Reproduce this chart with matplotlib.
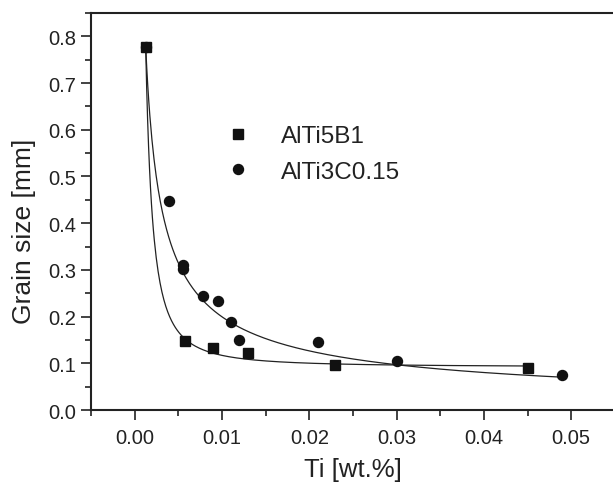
import numpy as np
import matplotlib
matplotlib.use('Agg')
import matplotlib.pyplot as plt
from matplotlib.ticker import MultipleLocator

plt.rcParams['font.family'] = ['Liberation Sans', 'DejaVu Sans']

# AlTi5B1 measurements
ti_b = [0.00126, 0.00575, 0.00897, 0.0130, 0.0230, 0.0450]
gs_b = [0.778, 0.147, 0.132, 0.122, 0.097, 0.090]
# AlTi3C0.15 measurements
ti_c = [0.00126, 0.0039, 0.0055, 0.0055, 0.0078, 0.00954, 0.0110, 0.0120, 0.0210, 0.0300, 0.0490]
gs_c = [0.778, 0.447, 0.310, 0.301, 0.244, 0.233, 0.189, 0.150, 0.145, 0.105, 0.074]

# fit parameters: y = c + a * x**b
fit_b = (0.092, 0.686 * 0.00126 ** 1.6, -1.6)
fit_c = (0.0, 0.778 * 0.00126 ** 0.657, -0.657)


def fitcurve(p, x0, x1):
    x = np.linspace(x0, x1, 400)
    c, a, b = p
    return x, c + a * x ** b


fig = plt.figure(figsize=(6.13, 4.89), dpi=100)
ax = fig.add_axes([0.1485, 0.1595, 0.8545, 0.812])

x, y = fitcurve(fit_b, ti_b[0], ti_b[-1])
ax.plot(x, y, color='#222222', lw=0.9)
x, y = fitcurve(fit_c, ti_c[0], ti_c[-1])
ax.plot(x, y, color='#222222', lw=0.9)

ax.plot(ti_b, gs_b, 's', color='#111111', ms=6.5, label='AlTi5B1')
ax.plot(ti_c, gs_c, 'o', color='#111111', ms=7.2, label='AlTi3C0.15')

ax.set_xlim(-0.005, 0.055)
ax.set_ylim(0, 0.85)
ax.xaxis.set_minor_locator(MultipleLocator(0.005))
ax.yaxis.set_minor_locator(MultipleLocator(0.05))
ax.set_xticks(np.arange(0, 0.051, 0.01))
ax.set_xticklabels(['%.2f' % v for v in np.arange(0, 0.051, 0.01)])
ax.set_yticks(np.arange(0, 0.81, 0.1))
ax.set_yticklabels(['%.1f' % v for v in np.arange(0, 0.81, 0.1)])
ax.tick_params(which='major', direction='out', length=7, width=1.2, labelsize=14.5, colors='#222222')
ax.tick_params(which='minor', direction='out', length=4, width=1.2, colors='#222222')
ax.tick_params(axis='x', pad=6)
ax.tick_params(axis='y', pad=4)

for s in ['left', 'bottom', 'top']:
    ax.spines[s].set_linewidth(1.5)
    ax.spines[s].set_color('#222222')
ax.spines['right'].set_visible(False)

ax.set_xlabel('Ti [wt.%]', fontsize=18.5, color='#222222', labelpad=7)
ax.set_ylabel('Grain size [mm]', fontsize=19, color='#222222')
ax.yaxis.set_label_coords(-0.105, 0.453)

ax.legend(loc='center left', bbox_to_anchor=(0.262, 0.645), frameon=False,
          fontsize=17.5, handlelength=0.8, handletextpad=1.35, labelspacing=0.55,
          borderaxespad=0, borderpad=0, labelcolor='#222222')

fig.savefig('out.png', dpi=100)
